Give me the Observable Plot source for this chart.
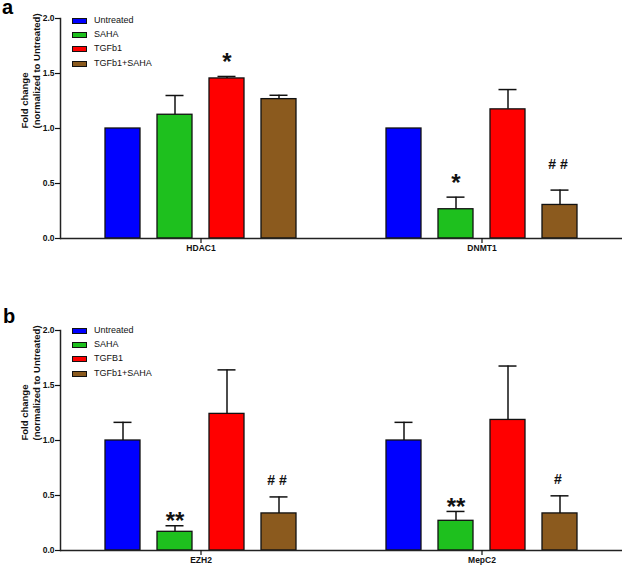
<!DOCTYPE html>
<html>
<head>
<meta charset="utf-8">
<script src="https://cdn.jsdelivr.net/npm/d3@7"></script>
<script src="https://cdn.jsdelivr.net/npm/@observablehq/plot@0.6"></script>
<style>
  body { margin: 0; background: #fff; font-family: "Liberation Sans", Arial, sans-serif; }
  .panel { position: relative; width: 625px; }
  .letter { position: absolute; font-size: 20px; font-weight: bold; line-height: 12px; color: #000; }
  .legend { position: absolute; left: 72px; }
  .legend .row { position: absolute; left: 0; height: 14px; white-space: nowrap; }
  .legend .sw { position: absolute; left: 0; top: 4px; width: 13px; height: 4px; border: 1px solid #111; }
  .legend .lab { position: absolute; left: 22px; top: 0; font-size: 9px; line-height: 12px; color: #111; }
</style>
</head>
<body>
<div id="a" class="panel"></div>
<div id="b" class="panel"></div>
<script>
// ---- data ----
const treatmentsA = ["Untreated", "SAHA", "TGFb1", "TGFb1+SAHA"];
const treatmentsB = ["Untreated", "SAHA", "TGFB1", "TGFb1+SAHA"];
const colors = ["#0000ff", "#1ec01e", "#ff0000", "#8b5a1e"];
const yTicks = [0, 0.5, 1.0, 1.5, 2.0];
const yLabel = "Fold change\n(normalized to Untreated)";

const genesA = ["HDAC1", "DNMT1"];
const meanA_HDAC1 = [1.0, 1.125, 1.455, 1.267];
const errA_HDAC1  = [0, 0.175, 0.018, 0.035];
const sigA_HDAC1  = ["", "", "*", ""];
const meanA_DNMT1 = [1.0, 0.266, 1.174, 0.305];
const errA_DNMT1  = [0, 0.11, 0.18, 0.135];
const sigA_DNMT1  = ["", "*", "", "##"];

const genesB = ["EZH2", "MepC2"];
const meanB_EZH2  = [1.0, 0.170, 1.242, 0.337];
const errB_EZH2   = [0.165, 0.055, 0.40, 0.15];
const sigB_EZH2   = ["", "**", "", "##"];
const meanB_MepC2 = [1.0, 0.270, 1.187, 0.337];
const errB_MepC2  = [0.165, 0.085, 0.49, 0.16];
const sigB_MepC2  = ["", "**", "", "#"];

function rowsFor(genes, treats, means, errs, sigs) {
  const rows = [];
  genes.forEach((g, gi) => treats.forEach((t, ti) => rows.push({
    gene: g, treatment: t, mean: means[gi][ti], err: errs[gi][ti], sig: sigs[gi][ti],
    top: means[gi][ti] + errs[gi][ti]
  })));
  return rows;
}

function panel(genes, treats, rows, o) {
  const errRows = rows.filter(d => d.err > 0);
  const stars = rows.filter(d => d.sig.includes("*"));
  const hashes = rows.filter(d => d.sig.includes("#"));
  const fxo = {fx: "gene", x: "treatment"};
  const svg = Plot.plot({
    width: 625, height: o.height,
    marginLeft: 60, marginRight: 3, marginTop: 18, marginBottom: o.marginBottom,
    style: {fontFamily: "'Liberation Sans', Arial, sans-serif", color: "#111", background: "white"},
    fx: {domain: genes, padding: 0, label: null, axis: null},
    x: {domain: treats, paddingInner: 0.326, paddingOuter: 0.84, axis: null},
    y: {domain: [0, 2], axis: null},
    color: {domain: treats, range: colors},
    marks: [
      Plot.barY(rows, {...fxo, y: "mean", fill: "treatment", stroke: "#111", strokeWidth: 1.3}),
      Plot.ruleX(errRows, {...fxo, y1: "mean", y2: "top", stroke: "#111", strokeWidth: 1.5}),
      Plot.tickY(errRows, {...fxo, y: "top", insetLeft: 8.5, insetRight: 8.5, stroke: "#111", strokeWidth: 1.5}),
      Plot.text(stars, {...fxo, y: "top", text: "sig", fontSize: 24, fontWeight: "bold", dy: o.starDy, fill: "#111"}),
      Plot.text(hashes, {...fxo, y: "top", text: "sig", fontSize: 14, fontWeight: "bold", dy: o.hashDy, fill: "#111"}),
      Plot.ruleY([0], {stroke: "#222", strokeWidth: 1.5}),
      Plot.frame({anchor: "left", facet: "super", stroke: "#222", strokeWidth: 1.5}),
      Plot.axisY({ticks: yTicks, tickFormat: d3.format(".1f"), tickSize: 5, tickPadding: 1, fontSize: 8.5, fontWeight: "bold", label: null, strokeWidth: 1.2}),
      Plot.axisFx({anchor: "bottom", tickSize: 5, tickPadding: 1, fontSize: 8.5, fontWeight: "bold", label: null, strokeWidth: 1.2}),
      Plot.text([yLabel], {facet: "super", frameAnchor: "left", dx: -30, rotate: -90, fontSize: 9.5, fontWeight: "bold", lineHeight: 1.2, fill: "#111"})
    ]
  });
  d3.select(svg).selectAll("text").filter(function() { return this.textContent.includes("#"); })
    .attr("letter-spacing", "4px");
  return svg;
}

function legend(container, labels, top) {
  const lg = document.createElement("div");
  lg.className = "legend";
  lg.style.top = top + "px";
  labels.forEach((l, i) => {
    const r = document.createElement("div");
    r.className = "row";
    r.style.top = (i * 14.2) + "px";
    const sw = document.createElement("div");
    sw.className = "sw";
    sw.style.background = colors[i];
    const lab = document.createElement("div");
    lab.className = "lab";
    lab.textContent = l;
    r.appendChild(sw); r.appendChild(lab);
    lg.appendChild(r);
  });
  container.appendChild(lg);
}

function letter(container, ch, top, left) {
  const d = document.createElement("div");
  d.className = "letter";
  d.textContent = ch;
  d.style.top = top + "px";
  d.style.left = left + "px";
  container.appendChild(d);
}

const rowsA = rowsFor(genesA, treatmentsA, [meanA_HDAC1, meanA_DNMT1], [errA_HDAC1, errA_DNMT1], [sigA_HDAC1, sigA_DNMT1]);
const rowsB = rowsFor(genesB, treatmentsB, [meanB_EZH2, meanB_MepC2], [errB_EZH2, errB_MepC2], [sigB_EZH2, sigB_MepC2]);

const A = document.getElementById("a");
A.style.height = "312px";
A.appendChild(panel(genesA, treatmentsA, rowsA, {height: 312, marginBottom: 74, starDy: -14, hashDy: -26}));
legend(A, treatmentsA, 14);
letter(A, "a", 1, 2);

const B = document.getElementById("b");
B.style.height = "256px";
B.appendChild(panel(genesB, treatmentsB, rowsB, {height: 256, marginBottom: 18, starDy: -4, hashDy: -16}));
legend(B, treatmentsB, 12);
letter(B, "b", -2, 3);
</script>
</body>
</html>
